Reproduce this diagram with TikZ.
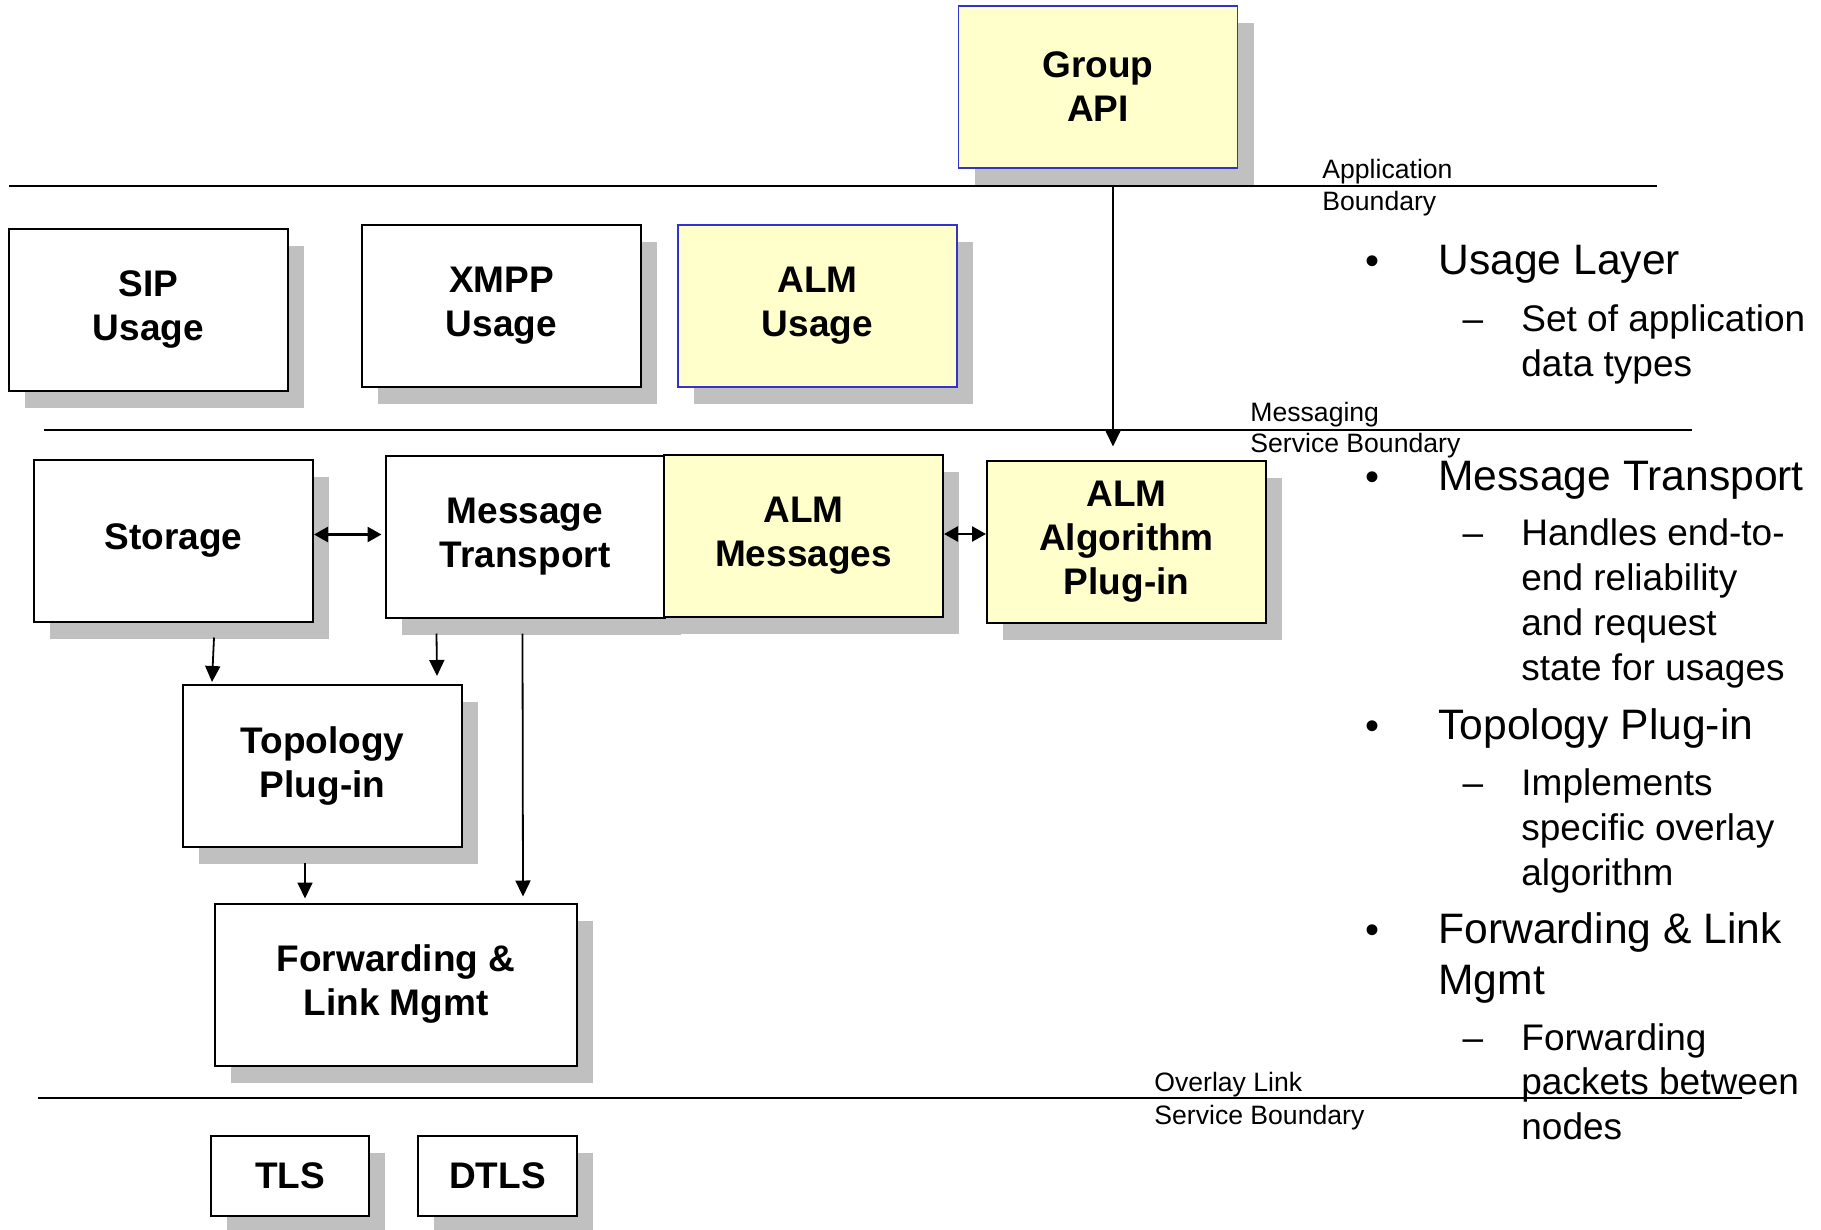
\documentclass[tikz,border=0pt]{standalone}
\usepackage{fontspec}
\setmainfont{Liberation Sans}
\usetikzlibrary{arrows.meta,calc,shadows}
\definecolor{boxyellow}{HTML}{FFFFCC}
\definecolor{boxblue}{HTML}{3333CC}
\definecolor{shadowgray}{HTML}{C0C0C0}

\begin{document}
\begin{tikzpicture}[x=0.5pt,y=-0.5pt,
  block/.style={draw=black, line width=1pt, fill=white, inner sep=0pt, align=center,
    font=\fontsize{18.5}{22}\selectfont\bfseries,
    minimum width=139.5pt, minimum height=81pt,
    drop shadow={shadow xshift=8pt, shadow yshift=-8.5pt, fill=shadowgray, opacity=1, draw=none}},
  alm/.style={fill=boxyellow},
  bluebox/.style={draw=boxblue, line width=0.75pt},
  bound/.style={line width=0.9pt},
  arr/.style={line width=0.9pt, -{Triangle[width=7.5pt,length=8pt]}},
  dbl/.style={line width=1.3pt, {Triangle[width=7.5pt,length=7pt]}-{Triangle[width=7.5pt,length=7pt]}},
  lbl/.style={anchor=base west, inner sep=0pt, font=\fontsize{13.3}{16}\selectfont},
  head/.style={anchor=base west, inner sep=0pt, font=\fontsize{21.3}{25}\selectfont},
  sub/.style={anchor=base west, inner sep=0pt, font=\fontsize{18.5}{22}\selectfont},
  bul/.style={anchor=base, inner sep=0pt, font=\fontsize{20}{24}\selectfont},
  dsh/.style={anchor=base, inner sep=0pt, font=\fontsize{18.5}{22}\selectfont}]

\useasboundingbox (0,0) rectangle (1821,1230);

% layer boundaries
\coordinate (appL) at (9,186);    \coordinate (appR) at (1657,186);
\coordinate (msgL) at (44,430);   \coordinate (msgR) at (1692,430);
\coordinate (ovlL) at (38,1098);  \coordinate (ovlR) at (1742,1098);
\draw[bound] (appL) -- (appR);
\draw[bound] (msgL) -- (msgR);
\draw[bound] (ovlL) -- (ovlR);

\node[lbl] (appA) at (1322,179) {Application};
\node[lbl] (appB) at (1322,211) {Boundary};
\node[lbl] (msgA) at (1250,421) {Messaging};
\node[lbl] (msgB) at (1250,452) {Service Boundary};
\node[lbl] (ovlA) at (1154,1091) {Overlay Link};
\node[lbl] (ovlB) at (1154,1124) {Service Boundary};

% component blocks
\node[block, alm, bluebox] (gapi) at (1098,87) {Group\\API};
\node[block] (sip)  at (148.5,310) {SIP\\Usage};
\node[block] (xmpp) at (501.5,306) {XMPP\\Usage};
\node[block, alm, bluebox] (almu) at (817.5,306) {ALM\\Usage};
\node[block] (stor) at (173.5,540.5) {Storage};
\node[block] (mt)   at (525,536.5) {Message\\Transport};
\node[block, alm] (almm) at (803.5,536) {ALM\\Messages};
\node[block, alm] (alg)  at (1126.5,541.5) {ALM\\Algorithm\\Plug-in};
\node[block] (topo) at (322.5,766) {Topology\\Plug-in};
\node[block, minimum width=181pt] (fwd) at (396,984.5) {Forwarding \&\\Link Mgmt};
\node[block, minimum width=79pt, minimum height=40pt] (tls)  at (290,1176) {TLS};
\node[block, minimum width=79.5pt, minimum height=40pt] (dtls) at (497.5,1176) {DTLS};

% connectors
\draw[arr] ($(gapi.south)+(15,16)$) -- ($(gapi.south |- alg.north)+(15,-13)$);
\draw[dbl] ($(stor.east)+(0,-6)$) -- ($(stor.east -| mt.west)+(-3,-6)$);
\draw[dbl] ($(almm.east)+(0,-2)$) -- ($(almm.east -| alg.west)+(0,-2)$);
\draw[arr] ($(stor.south west)+(181,15)$) -- ($(topo.north west)+(30,-2)$);
\draw[arr] ($(mt.south west)+(52,15)$) -- ($(topo.north east)+(-26,-8)$);
\draw[arr] ($(mt.south west)+(138,15)$) -- ($(fwd.north west)+(309,-6)$);
\draw[arr] ($(topo.south west)+(123,15)$) -- ($(fwd.north west)+(91,-4)$);

% bullet list
\node[bul] (b1) at (1372,275) {•};
\node[head] (h1) at (1438,275) {Usage Layer};
\node[dsh] (d1) at (1473,331) {–};
\node[sub] (s1a) at (1521,331) {Set of application};
\node[sub] (s1b) at (1521,377) {data types};

\node[bul] (b2) at (1372,490) {•};
\node[head] (h2) at (1438,490) {Message Transport};
\node[dsh] (d2) at (1473,545) {–};
\node[sub] (s2a) at (1521,545) {Handles end-to-};
\node[sub] (s2b) at (1521,590) {end reliability};
\node[sub] (s2c) at (1521,635) {and request};
\node[sub] (s2d) at (1521,680) {state for usages};

\node[bul] (b3) at (1372,739) {•};
\node[head] (h3) at (1438,739) {Topology Plug-in};
\node[dsh] (d3) at (1473,795) {–};
\node[sub] (s3a) at (1521,795) {Implements};
\node[sub] (s3b) at (1521,840) {specific overlay};
\node[sub] (s3c) at (1521,885) {algorithm};

\node[bul] (b4) at (1372,943) {•};
\node[head] (h4a) at (1438,943) {Forwarding \& Link};
\node[head] (h4b) at (1438,994) {Mgmt};
\node[dsh] (d4) at (1473,1050) {–};
\node[sub] (s4a) at (1521,1050) {Forwarding};
\node[sub] (s4b) at (1521,1094) {packets between};
\node[sub] (s4c) at (1521,1139) {nodes};
\end{tikzpicture}
\end{document}
